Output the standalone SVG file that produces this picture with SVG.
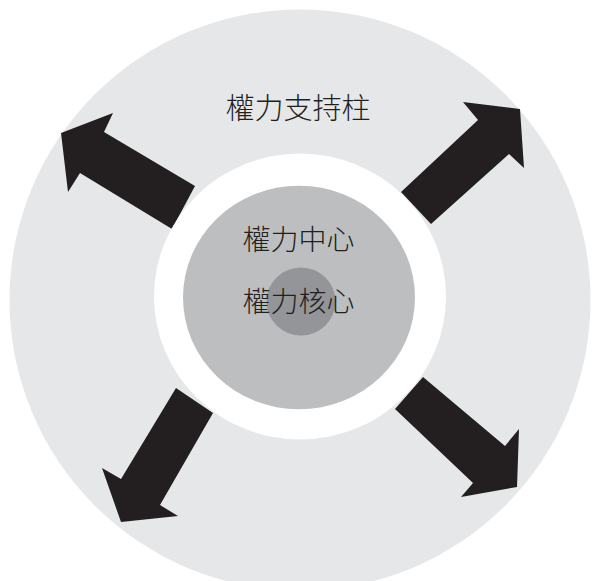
<svg xmlns="http://www.w3.org/2000/svg" width="592" height="581" viewBox="0 0 592 581">
  <style>
    .lbl { font-family: "Noto Sans CJK TC", "Noto Sans CJK JP", sans-serif; font-size: 28px; font-weight: 300; fill: #231f20; text-anchor: middle; }
    .arrow { fill: #231f20; }
  </style>
  <rect width="592" height="581" fill="#ffffff"/>
  <g id="pillars">
    <circle cx="300" cy="300" r="290.5" fill="#e6e7e8"/>
    <text class="lbl" x="298" y="119" style="font-size:29px">權力支持柱</text>
  </g>
  <g id="connectors">
    <polygon class="arrow" points="61,133 113,113 104,132 195,186 172,229 80,173 68,192"/>
    <polygon class="arrow" points="520,109 524,168 509,154 431,224 401,192 478,120 463,102"/>
    <polygon class="arrow" points="121,522 102,468 121,479 176,388 213,413 160,505 178,516"/>
    <polygon class="arrow" points="517,487 461,497 473,483 395,409 423,377 505,446 519,429"/>
  </g>
  <g id="ring">
    <ellipse cx="300" cy="296.5" rx="146" ry="143" fill="#ffffff"/>
  </g>
  <g id="center">
    <ellipse cx="299" cy="297.5" rx="116" ry="111.8" fill="#bcbec0"/>
    <text class="lbl" x="298.5" y="250">權力中心</text>
  </g>
  <g id="core">
    <ellipse cx="301" cy="301.5" rx="34.5" ry="34" fill="#939598"/>
    <text class="lbl" x="298.5" y="312">權力核心</text>
  </g>
</svg>
